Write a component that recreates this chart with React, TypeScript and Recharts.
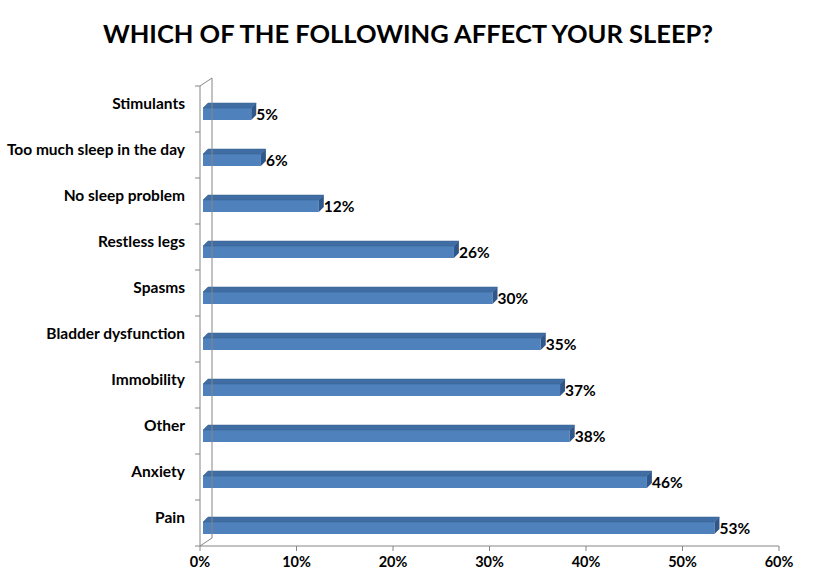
import React from 'react';
import { BarChart, Bar, XAxis, YAxis, LabelList } from 'recharts';

const categories = [
  'Stimulants',
  'Too much sleep in the day',
  'No sleep problem',
  'Restless legs',
  'Spasms',
  'Bladder dysfunction',
  'Immobility',
  'Other',
  'Anxiety',
  'Pain',
];
const values = [5, 6, 12, 26, 30, 35, 37, 38, 46, 53];
const xTicks = [0, 10, 20, 30, 40, 50, 60];

const data = categories.map((name, i) => ({ name, value: values[i] }));

const W = 822;
const H = 581;
const MARGIN = { top: 86, right: 43, bottom: 0, left: 0 };
const X_AXIS_H = 35;
const BAND = (H - MARGIN.top - X_AXIS_H) / categories.length;
const DEPTH_X = 5;
const DEPTH_Y = 5;
const WALL_X = 12;
const WALL_Y = 8;
const AXIS = '#868686';
const FONT = 'Lato, "Open Sans", sans-serif';

function Bar3D(props: any) {
  const { x, y, width, height } = props;
  if (width <= 0) return null;
  const fx = x + 3;
  const fy = y + DEPTH_Y;
  const r = fx + width;
  return (
    <g>
      <rect x={fx} y={fy} width={width} height={height} fill="#4F81BD" />
      <polygon
        points={`${fx},${fy} ${fx + DEPTH_X},${fy - DEPTH_Y} ${r + DEPTH_X},${fy - DEPTH_Y} ${r},${fy}`}
        fill="#3F6DA4"
        stroke="#36608F"
        strokeWidth={0.5}
      />
      <polygon
        points={`${r},${fy} ${r + DEPTH_X},${fy - DEPTH_Y} ${r + DEPTH_X},${fy - DEPTH_Y + height} ${r},${fy + height}`}
        fill="#30578A"
      />
    </g>
  );
}

function ValueLabel(props: any) {
  const { x, y, width, height, value } = props;
  return (
    <text
      x={x + 3 + width + DEPTH_X}
      y={y + DEPTH_Y + height / 2}
      dominantBaseline="central"
      fontFamily={FONT}
      fontWeight="bold"
      fontSize={15.5}
      fill="#000"
    >
      {value}%
    </text>
  );
}

function CategoryTick(props: any) {
  const { x, y, payload, index } = props;
  const ax = x + 15;
  const top = y - BAND / 2;
  const bottom = y + BAND / 2;
  const last = index === categories.length - 1;
  return (
    <g>
      <line x1={ax - 5} y1={top} x2={ax} y2={top} stroke={AXIS} />
      {last && <line x1={ax - 5} y1={bottom} x2={ax} y2={bottom} stroke={AXIS} />}
      {index === 0 && (
        <line x1={ax} y1={top} x2={ax + WALL_X} y2={top - WALL_Y} stroke={AXIS} />
      )}
      <line
        x1={ax + WALL_X}
        y1={top - WALL_Y}
        x2={ax + WALL_X}
        y2={bottom - WALL_Y}
        stroke={AXIS}
      />
      {last && (
        <line x1={ax} y1={bottom} x2={ax + WALL_X} y2={bottom - WALL_Y} stroke={AXIS} />
      )}
      <text
        x={x}
        y={y - 6}
        textAnchor="end"
        dominantBaseline="central"
        fontFamily={FONT}
        fontWeight="bold"
        fontSize={15.5}
        fill="#000"
      >
        {payload.value}
      </text>
    </g>
  );
}

export default function App() {
  return (
    <div
      style={{
        position: 'absolute',
        left: 0,
        top: 0,
        width: W,
        height: H,
        background: '#fff',
      }}
    >
      <div
        style={{
          position: 'absolute',
          left: 0,
          width: 816,
          top: 17,
          textAlign: 'center',
          fontFamily: FONT,
          fontWeight: 'bold',
          fontSize: 25.5,
          lineHeight: '32px',
          color: '#000',
        }}
      >
        WHICH OF THE FOLLOWING AFFECT YOUR SLEEP?
      </div>
      <BarChart
        width={W}
        height={H}
        data={data}
        layout="vertical"
        margin={MARGIN}
        barSize={12}
      >
        <XAxis
          type="number"
          domain={[0, 60]}
          ticks={xTicks}
          tickFormatter={(v: number) => `${v}%`}
          axisLine={{ stroke: AXIS }}
          tickLine={{ stroke: AXIS }}
          tickSize={5}
          tickMargin={6}
          height={X_AXIS_H}
          tick={{ fontFamily: FONT, fontWeight: 'bold', fontSize: 14.5, fill: '#000' }}
        />
        <YAxis
          type="category"
          dataKey="name"
          width={200}
          axisLine={{ stroke: AXIS }}
          tickLine={false}
          tickSize={5}
          tickMargin={10}
          interval={0}
          tick={<CategoryTick />}
        />
        <Bar dataKey="value" shape={<Bar3D />} isAnimationActive={false}>
          <LabelList dataKey="value" content={<ValueLabel />} />
        </Bar>
      </BarChart>
    </div>
  );
}
